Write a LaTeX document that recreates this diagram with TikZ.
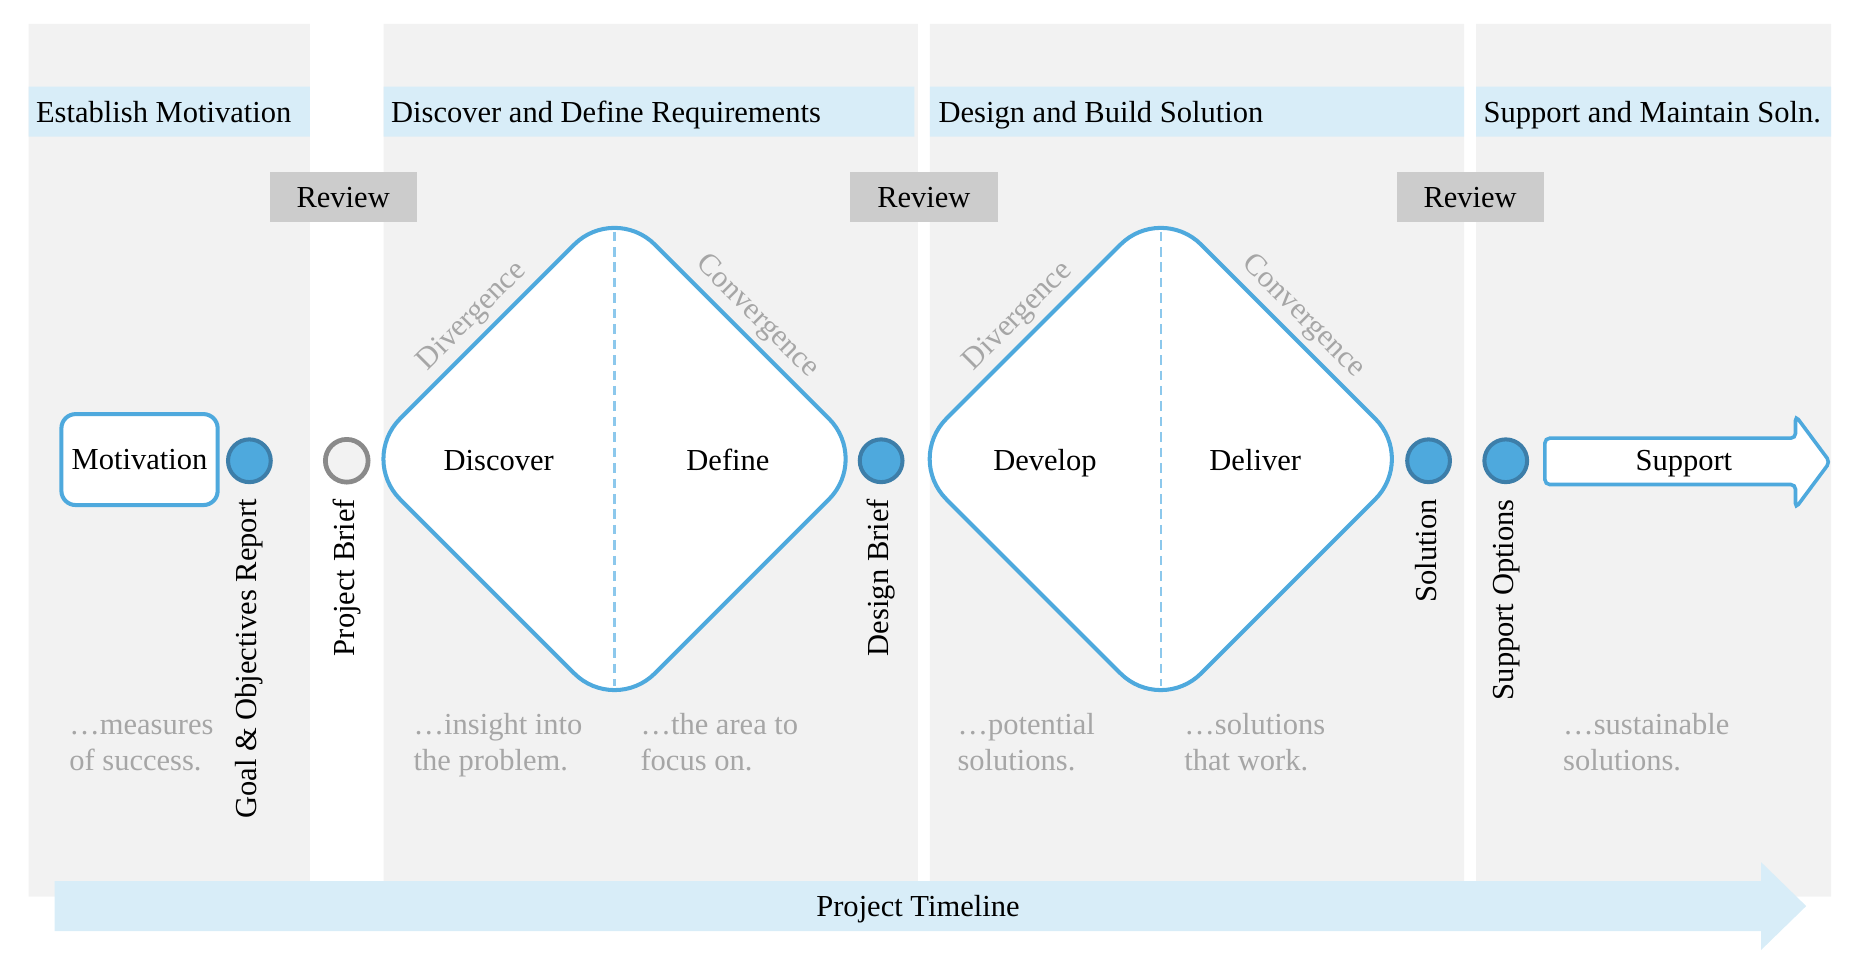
\documentclass[tikz,border=0pt]{standalone}
\usepackage{fontspec}
\setmainfont{Liberation Serif}
\usepackage{xcolor}
\usepackage{tikz}
\usetikzlibrary{arrows.meta}

\definecolor{panelgray}{HTML}{F2F2F2}
\definecolor{headblue}{HTML}{D8EDF8}
\definecolor{reviewgray}{HTML}{CCCCCC}
\definecolor{lineblue}{HTML}{4EA9DD}
\definecolor{dotedge}{HTML}{3D7EA9}
\definecolor{dashblue}{HTML}{8CC8EC}
\definecolor{softgray}{HTML}{A6A6A6}
\definecolor{ringgray}{HTML}{8A8A8A}

\begin{document}
\begin{tikzpicture}[x=0.5pt,y=-0.5pt,font=\fontsize{12.85}{15}\selectfont,
txt/.style={inner sep=0,text height=9pt,text depth=2.6pt},
phase/.style={txt,anchor=west},
review/.style={fill=reviewgray,minimum width=62pt,minimum height=21pt,inner sep=0},
dot/.style={circle,draw=dotedge,fill=lineblue,line width=1.7pt,minimum size=18pt,inner sep=0},
hollow/.style={dot,draw=ringgray,fill=panelgray,line width=2pt},
doc/.style={txt,rotate=90,anchor=east},
note/.style={text=softgray,align=left,anchor=base west,inner sep=0,
font=\fontsize{12.85}{15.2}\selectfont},
side/.style={midway,sloped,above,text=softgray,inner sep=3pt},
diam/.style={draw=lineblue,fill=white,line width=1.7pt,rounded corners=24pt},
split/.style={dashblue,line width=1pt,dash pattern=on 4pt off 2.5pt}]
\useasboundingbox (0,0) rectangle (1568,810);
% columns and headers
\fill[panelgray](24,20)rectangle(261,755) (323,20)rectangle(773,755)
(783,20)rectangle(1233,755) (1243,20)rectangle(1542,755);
\fill[headblue](24,73)rectangle(261,115) (323,73)rectangle(770,115)
(783,73)rectangle(1233,115) (1243,73)rectangle(1542,115);
\node[phase](ph1)at(30,97){Establish Motivation};
\node[phase](ph2)at(329,97){Discover and Define Requirements};
\node[phase](ph3)at(790,97){Design and Build Solution};
\node[phase](ph4)at(1249,97){Support and Maintain Soln.};
\node[review](rv1)at(289,166){Review};
\node[review](rv2)at(778,166){Review};
\node[review](rv3)at(1238,166){Review};
% timeline
\fill[headblue](46,742)--(1483,742)--(1483,726)--(1521,763)--(1483,800)--(1483,784)--(46,784)--cycle;
\node[txt](tl)at(773,765){Project Timeline};
% motivation
\node[draw=lineblue,fill=white,line width=1.7pt,rounded corners=6pt,minimum width=65.8pt,
minimum height=38.3pt](mot)at(117.5,387){Motivation};
% diamonds
\draw[diam](410.25,279.25)--(517.5,172)coordinate(d1n)--(732,386.5)coordinate(d1e)
--(517.5,601)coordinate(d1s)--(303,386.5)coordinate(d1w)--cycle;
\draw[split](517.5,195)--(517.5,578);
\path(d1w)--(d1n)node[side](dv1){Divergence};
\path(d1n)--(d1e)node[side](cv1){Convergence};
\draw[diam](870.25,279.25)--(977.5,172)coordinate(d2n)--(1192,386.5)coordinate(d2e)
--(977.5,601)coordinate(d2s)--(763,386.5)coordinate(d2w)--cycle;
\draw[split](977.5,195)--(977.5,578);
\path(d2w)--(d2n)node[side](dv2){Divergence};
\path(d2n)--(d2e)node[side](cv2){Convergence};
\node[txt](dsc)at(420,390){Discover};
\node[txt](dfn)at(613,390){Define};
\node[txt](dvl)at(880,390){Develop};
\node[txt](dlv)at(1057,390){Deliver};
% support
\draw[lineblue,fill=white,line width=1.5pt,rounded corners=2pt](1301,369)--(1512,369)--(1512,350)
--(1541,389)--(1512,428)--(1512,408)--(1301,408)--cycle;
\node[txt](sup)at(1418,390){Support};
% deliverables
\node[dot](gor)at(210,388){};
\node[hollow](pb)at(292,388){};
\node[dot](db)at(742,388){};
\node[dot](sol)at(1203,388){};
\node[dot](so)at(1268,388){};
\node[doc](gortxt)at(210,420){Goal \& Objectives Report};
\node[doc](pbtxt)at(292,420){Project Brief};
\node[doc](dbtxt)at(742,420){Design Brief};
\node[doc](soltxt)at(1203,420){Solution};
\node[doc](sotxt)at(1268,420){Support Options};
% outcomes
\node[note](n1)at(58,649){…measures\\of success.};
\node[note](n2)at(348,649){…insight into\\the problem.};
\node[note](n3)at(539,649){…the area to\\focus on.};
\node[note](n4)at(806,649){…potential\\solutions.};
\node[note](n5)at(997,649){…solutions\\that work.};
\node[note](n6)at(1316,649){…sustainable\\solutions.};
\end{tikzpicture}
\end{document}
